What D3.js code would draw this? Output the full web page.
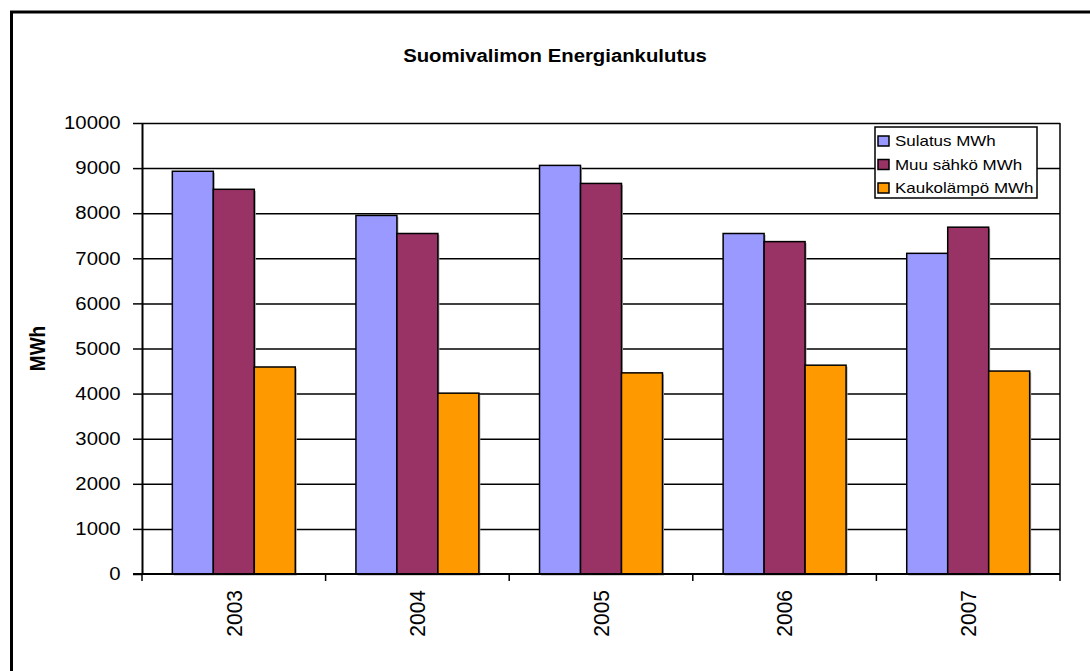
<!DOCTYPE html>
<html>
<head>
<meta charset="utf-8">
<script src="https://cdn.jsdelivr.net/npm/d3@7"></script>
<style>
  html, body { margin: 0; background: #fff; overflow: hidden; }
  svg { display: block; }
  text { font-family: "Liberation Sans", Arial, sans-serif; fill: #000; }
</style>
</head>
<body>
<svg id="chart" width="1090" height="671"></svg>
<script>
// data
var years = ["2003", "2004", "2005", "2006", "2007"];
var seriesNames = ["Sulatus MWh", "Muu sähkö MWh", "Kaukolämpö MWh"];
var sulatus = [8930, 7950, 9060, 7550, 7110];
var muuSahko = [8530, 7550, 8660, 7370, 7690];
var kaukolampo = [4590, 4010, 4460, 4630, 4500];
var yTicks = [0, 1000, 2000, 3000, 4000, 5000, 6000, 7000, 8000, 9000, 10000];
var colors = ["#9999ff", "#993366", "#ff9900"];

var seriesValues = [sulatus, muuSahko, kaukolampo];
var sx = 1.13; // the original text looks a bit wide

var svg = d3.select("#chart");

// outer frame (only left and top edge are inside the picture)
svg.append("rect")
    .attr("x", 11.5).attr("y", 12)
    .attr("width", 1200).attr("height", 800)
    .attr("fill", "none").attr("stroke", "#000").attr("stroke-width", 3);

var plotLeft = 142, plotRight = 1060, plotTop = 123, plotBottom = 574;

var x = d3.scaleBand().domain(years).range([plotLeft, plotRight]).padding(0);
var xs = d3.scaleBand().domain(d3.range(seriesNames.length))
    .range([0, x.bandwidth()]).paddingInner(0).paddingOuter(0.74);
var y = d3.scaleLinear().domain([0, 10000]).range([plotBottom, plotTop]);

// gridlines
svg.append("g").selectAll("line")
    .data(yTicks.slice(1))
  .enter().append("line")
    .attr("x1", plotLeft).attr("x2", plotRight)
    .attr("y1", function(d) { return y(d) + 0.5; })
    .attr("y2", function(d) { return y(d) + 0.5; })
    .attr("stroke", "#000").attr("stroke-width", 1.5);

// right edge of plot area
svg.append("line")
    .attr("x1", plotRight).attr("x2", plotRight)
    .attr("y1", plotTop).attr("y2", plotBottom)
    .attr("stroke", "#000").attr("stroke-width", 1.5);

// bars
var rows = years.map(function(yr, i) {
  return seriesValues.map(function(s, j) { return {year: yr, s: j, v: s[i]}; });
});

var group = svg.append("g").selectAll("g")
    .data(rows)
  .enter().append("g")
    .attr("transform", function(d) { return "translate(" + x(d[0].year) + ",0)"; });

// light grey shadow behind every bar
group.selectAll("rect.shadow")
    .data(function(d) { return d; })
  .enter().append("rect")
    .attr("class", "shadow")
    .attr("x", function(d) { return xs(d.s) + 1.5; })
    .attr("y", function(d) { return y(d.v) + 1.5; })
    .attr("width", xs.bandwidth())
    .attr("height", function(d) { return plotBottom - y(d.v); })
    .attr("fill", "#aaa");

group.selectAll("rect.bar")
    .data(function(d) { return d; })
  .enter().append("rect")
    .attr("class", "bar")
    .attr("x", function(d) { return xs(d.s); })
    .attr("y", function(d) { return y(d.v); })
    .attr("width", xs.bandwidth())
    .attr("height", function(d) { return plotBottom - y(d.v); })
    .attr("fill", function(d) { return colors[d.s]; })
    .attr("stroke", "#000").attr("stroke-width", 1.5);

// y axis
var yAxis = svg.append("g")
    .attr("transform", "translate(" + plotLeft + ",0)")
    .call(d3.axisLeft(y).tickValues(yTicks).tickFormat(d3.format("d"))
      .tickSize(9).tickSizeOuter(0).tickPadding(10));
yAxis.select(".domain").attr("stroke-width", 2);
yAxis.selectAll(".tick line").attr("stroke-width", 1.5);
yAxis.selectAll(".tick text")
    .attr("font-family", "Liberation Sans, Arial, sans-serif")
    .attr("font-size", 18)
    .attr("transform", "scale(" + sx + ",1)");

// x axis line and category ticks
svg.append("line")
    .attr("x1", plotLeft - 9).attr("x2", plotRight)
    .attr("y1", plotBottom).attr("y2", plotBottom)
    .attr("stroke", "#000").attr("stroke-width", 2);

var edges = years.map(function(d) { return x(d); }).concat([plotRight]);
svg.append("g").selectAll("line")
    .data(edges)
  .enter().append("line")
    .attr("x1", function(d) { return d; }).attr("x2", function(d) { return d; })
    .attr("y1", plotBottom).attr("y2", plotBottom + 7)
    .attr("stroke", "#000").attr("stroke-width", 1.5);

svg.append("g").selectAll("text")
    .data(years)
  .enter().append("text")
    .attr("transform", function(d) {
      return "translate(" + (x(d) + x.bandwidth() / 2) + "," + (plotBottom + 16) + ") rotate(-90) scale(1," + 1.05 + ")";
    })
    .attr("text-anchor", "end")
    .attr("dy", "0.35em")
    .attr("font-size", 21)
    .text(function(d) { return d; });

// axis title
svg.append("text")
    .attr("transform", "translate(37," + ((plotTop + plotBottom) / 2) + ") rotate(-90) scale(1," + 1.18 + ")")
    .attr("text-anchor", "middle")
    .attr("dy", "0.35em")
    .attr("font-size", 19)
    .attr("font-weight", "bold")
    .text("MWh");

// chart title
svg.append("text")
    .attr("transform", "translate(555,62) scale(" + sx + ",1)")
    .attr("text-anchor", "middle")
    .attr("font-size", 18)
    .attr("font-weight", "bold")
    .text("Suomivalimon Energiankulutus");

// legend
var legend = svg.append("g").attr("transform", "translate(875,127)");
legend.append("rect")
    .attr("width", 162).attr("height", 71)
    .attr("fill", "#fff").attr("stroke", "#000").attr("stroke-width", 1.5);

var item = legend.selectAll("g")
    .data(seriesNames)
  .enter().append("g")
    .attr("transform", function(d, i) { return "translate(0," + (14 + i * 23.5) + ")"; });

item.append("rect")
    .attr("x", 3).attr("y", -5)
    .attr("width", 11).attr("height", 10)
    .attr("fill", function(d, i) { return colors[i]; })
    .attr("stroke", "#000").attr("stroke-width", 1.5);

item.append("text")
    .attr("transform", "translate(20,0) scale(" + sx + ",1)")
    .attr("dy", "0.36em")
    .attr("font-size", 15)
    .text(function(d) { return d; });
</script>
</body>
</html>
